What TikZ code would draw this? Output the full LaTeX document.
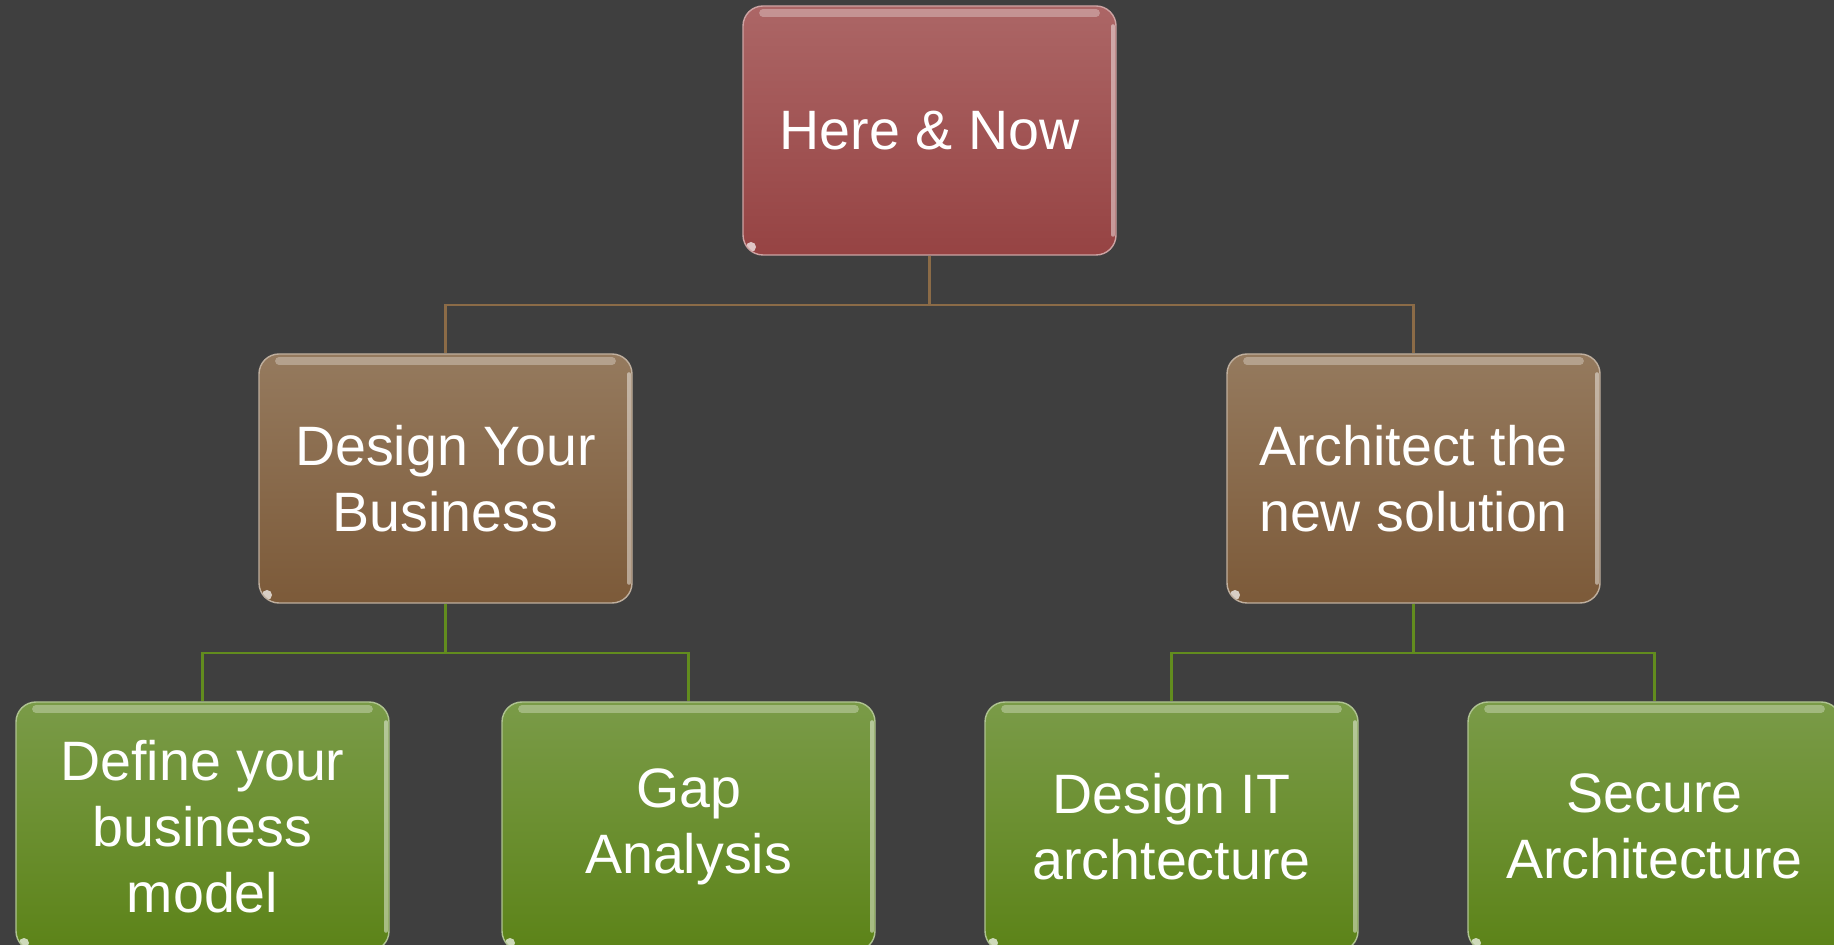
\documentclass[tikz,border=0pt]{standalone}
\usepackage{fontspec}
\setmainfont{Liberation Sans}
\usepackage{tikz}

\definecolor{backgr}{HTML}{3F3F3F}
\definecolor{nowtop}{HTML}{AC6666}
\definecolor{nowbot}{HTML}{964343}
\definecolor{midtop}{HTML}{957A5E}
\definecolor{midbot}{HTML}{7C5A39}
\definecolor{leaftop}{HTML}{7A9B48}
\definecolor{leafbot}{HTML}{5C8318}
\definecolor{midline}{HTML}{8B6B47}
\definecolor{leafline}{HTML}{628C1E}

\tikzset{
  card/.style={rounded corners=0.2cm, minimum width=3.73cm, minimum height=2.49cm,
    align=center, text=white, font=\fontsize{15.8}{18.8}\selectfont,
    top color=#1top, bottom color=#1bot, draw=#1top!60!white, line width=0.4pt,
    path picture={
      \draw[white, opacity=0.3, line width=2.2pt, line cap=round]
        ([xshift=0.2cm,yshift=-0.07cm]path picture bounding box.north west) --
        ([xshift=-0.2cm,yshift=-0.07cm]path picture bounding box.north east);
      \draw[white, opacity=0.45, line width=1pt, line cap=round]
        ([xshift=-0.03cm,yshift=-0.2cm]path picture bounding box.north east) --
        ([xshift=-0.03cm,yshift=0.2cm]path picture bounding box.south east);
      \fill[white, opacity=0.7]
        ([shift={(0.08cm,0.08cm)}]path picture bounding box.south west) circle (0.05cm);
    }},
  link/.style={line width=0.6pt}
}

\begin{document}
\begin{tikzpicture}[node distance=3.48cm]
  \fill[backgr] (0,0) rectangle (18.34,-9.45);
  \useasboundingbox (0,0) rectangle (18.34,-9.45);

  \node[card=now] (now) at (9.295,-1.305) {Here \& Now};
  \node[card=mid] (design) [below of=now, xshift=-4.84cm] {Design Your\\Business};
  \node[card=mid] (arch) [below of=now, xshift=4.84cm] {Architect the\\new solution};

  \node[card=leaf] (model) [below of=design, xshift=-2.43cm] {Define your\\business\\model};
  \node[card=leaf] (gap) [below of=design, xshift=2.43cm] {Gap\\Analysis};
  \node[card=leaf] (itarch) [below of=arch, xshift=-2.42cm] {Design IT\\archtecture};
  \node[card=leaf] (secure) [below of=arch, xshift=2.41cm] {Secure\\Architecture};

  \draw[link, midline] (now.south) -- ++(0,-0.49) -| (design.north);
  \draw[link, midline] (now.south) -- ++(0,-0.49) -| (arch.north);
  \draw[link, leafline] (design.south) -- ++(0,-0.49) -| (model.north);
  \draw[link, leafline] (design.south) -- ++(0,-0.49) -| (gap.north);
  \draw[link, leafline] (arch.south) -- ++(0,-0.49) -| (itarch.north);
  \draw[link, leafline] (arch.south) -- ++(0,-0.49) -| (secure.north);
\end{tikzpicture}
\end{document}
